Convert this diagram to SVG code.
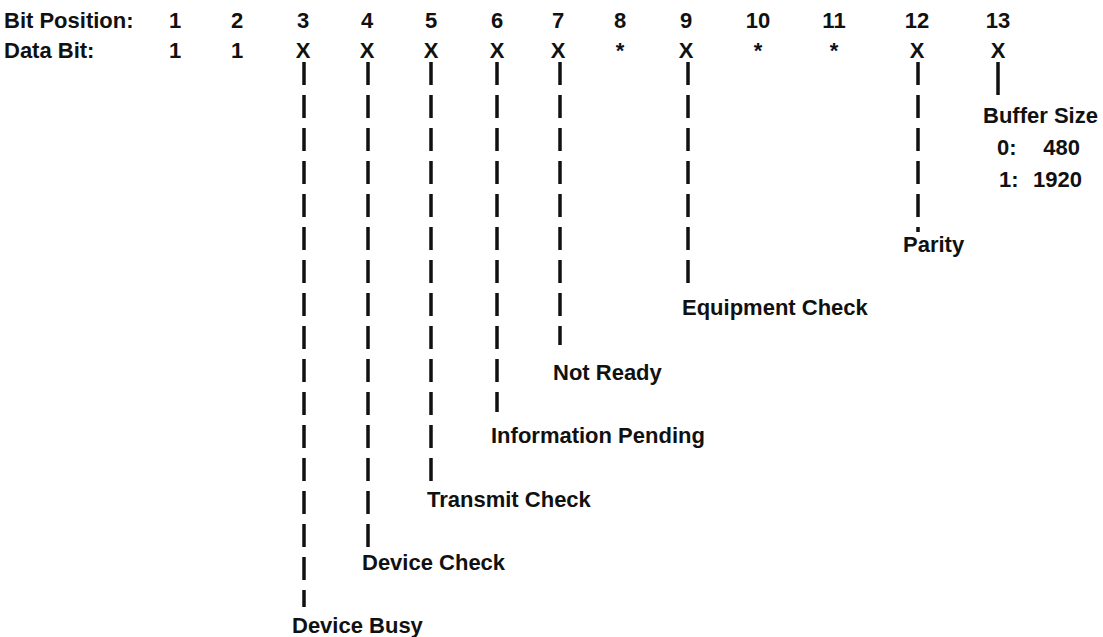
<svg xmlns="http://www.w3.org/2000/svg" width="1103" height="637" viewBox="0 0 1103 637">
<style>
text{font-family:"Liberation Sans",Arial,sans-serif;font-weight:bold;font-size:22px;fill:#111}
.c{text-anchor:middle}
.e{text-anchor:end}
.d{stroke:#111;stroke-width:3.5;stroke-dasharray:23 10;fill:none}
.s{stroke:#111;stroke-width:3.5;fill:none}
</style>
<rect width="1103" height="637" fill="#fff"/>
<g id="header">
<text x="4" y="28">Bit Position:</text>
<text x="4" y="58">Data Bit:</text>
</g>
<g id="positions" class="c">
<text class="c" x="175" y="28">1</text>
<text class="c" x="237" y="28">2</text>
<text class="c" x="303" y="28">3</text>
<text class="c" x="367" y="28">4</text>
<text class="c" x="431" y="28">5</text>
<text class="c" x="497" y="28">6</text>
<text class="c" x="558" y="28">7</text>
<text class="c" x="620" y="28">8</text>
<text class="c" x="686" y="28">9</text>
<text class="c" x="758" y="28">10</text>
<text class="c" x="834" y="28">11</text>
<text class="c" x="917" y="28">12</text>
<text class="c" x="998" y="28">13</text>
</g>
<g id="databits">
<text class="c" x="175" y="58">1</text>
<text class="c" x="237" y="58">1</text>
<text class="c" x="303" y="58">X</text>
<text class="c" x="367" y="58">X</text>
<text class="c" x="431" y="58">X</text>
<text class="c" x="497" y="58">X</text>
<text class="c" x="558" y="58">X</text>
<text class="c" x="620" y="58">*</text>
<text class="c" x="686" y="58">X</text>
<text class="c" x="758" y="58">*</text>
<text class="c" x="834" y="58">*</text>
<text class="c" x="917" y="58">X</text>
<text class="c" x="998" y="58">X</text>
</g>
<g id="connectors">
<line class="d" x1="304" y1="62" x2="304" y2="607"/>
<line class="d" x1="368" y1="62" x2="368" y2="548"/>
<line class="d" x1="431" y1="62" x2="431" y2="485"/>
<line class="d" x1="497" y1="62" x2="497" y2="412"/>
<line class="d" x1="560" y1="62" x2="560" y2="345"/>
<line class="d" x1="688" y1="62" x2="688" y2="292"/>
<line class="d" x1="918" y1="62" x2="918" y2="232"/>
<line class="s" x1="998" y1="62" x2="998" y2="95"/>
</g>
<g id="device-busy"><text x="292" y="633">Device Busy</text></g>
<g id="device-check"><text x="362" y="570">Device Check</text></g>
<g id="transmit-check"><text x="427" y="507">Transmit Check</text></g>
<g id="information-pending"><text x="491" y="443">Information Pending</text></g>
<g id="not-ready"><text x="553" y="380">Not Ready</text></g>
<g id="equipment-check"><text x="682" y="315">Equipment Check</text></g>
<g id="parity"><text x="903" y="252">Parity</text></g>
<g id="buffer-size">
<text x="983" y="123">Buffer Size</text>
<text x="997" y="155">0:</text><text class="e" x="1080" y="155">480</text>
<text x="999" y="187">1:</text><text class="e" x="1082" y="187">1920</text>
</g>
</svg>
